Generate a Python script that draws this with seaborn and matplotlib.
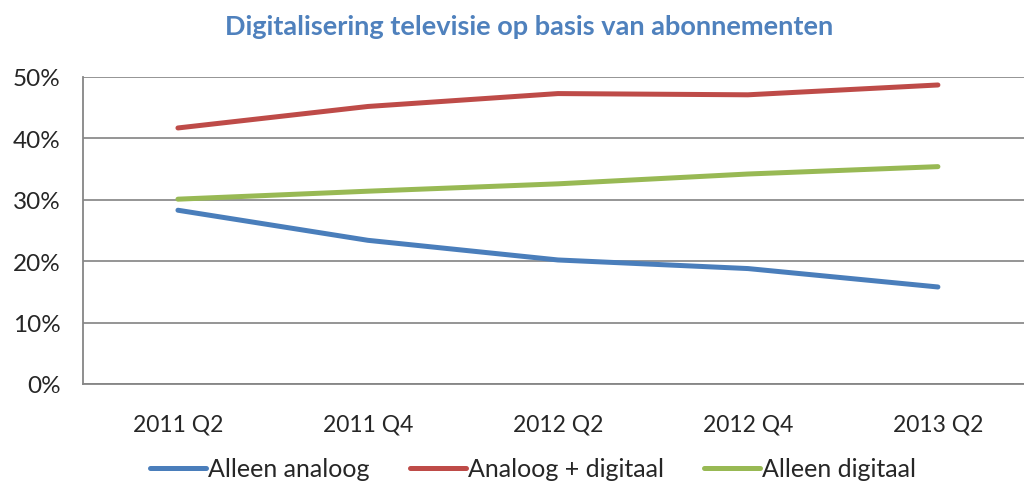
import matplotlib
matplotlib.use("Agg")
import matplotlib.pyplot as plt
import seaborn as sns
import pandas as pd
from matplotlib.ticker import PercentFormatter

quarters = ["2011 Q2", "2011 Q4", "2012 Q2", "2012 Q4", "2013 Q2"]
alleen_analoog = [28.3, 23.4, 20.2, 18.8, 15.8]
analoog_digitaal = [41.7, 45.2, 47.3, 47.1, 48.7]
alleen_digitaal = [30.1, 31.4, 32.6, 34.2, 35.4]

series = {
    "Alleen analoog": alleen_analoog,
    "Analoog + digitaal": analoog_digitaal,
    "Alleen digitaal": alleen_digitaal,
}
colors = ["#4A7EBB", "#BE4B48", "#98B954"]

rows = []
for name, vals in series.items():
    for i, (q, v) in enumerate(zip(quarters, vals)):
        rows.append({"pos": i, "kwartaal": q, "serie": name, "waarde": v})
df = pd.DataFrame(rows)

sns.set_style("white")
plt.rcParams["font.family"] = ["Lato", "DejaVu Sans"]

fig = plt.figure(figsize=(10.24, 4.89), dpi=100)
ax = fig.add_axes([0.081, 0.2127, 0.9277, 0.6278])

sns.lineplot(data=df, x="pos", y="waarde", hue="serie", palette=colors,
             linewidth=3.6, ax=ax, legend=True, solid_capstyle="round")

ax.set_xlim(-0.5, 4.5)
ax.set_ylim(0, 50)
ax.set_yticks(range(0, 51, 10))
ax.yaxis.set_major_formatter(PercentFormatter(decimals=0))
ax.set_xticks(range(len(quarters)))
ax.set_xticklabels(quarters)
ax.set_xticks([x + 0.5 for x in range(-1, len(quarters))], minor=True)
ax.tick_params(axis="x", which="major", length=0, pad=21, labelsize=16.5)
ax.tick_params(axis="x", which="minor", length=6, color="#868686", width=1.2)
ax.tick_params(axis="y", length=6, color="#868686", width=1.2, labelsize=17.5, pad=10)
ax.yaxis.grid(True, color="#8C8C8C", linewidth=1.3)
ax.set_axisbelow(True)
for s in ["top", "right"]:
    ax.spines[s].set_visible(False)
for s in ["left", "bottom"]:
    ax.spines[s].set_color("#868686")
    ax.spines[s].set_linewidth(1.3)
ax.set_xlabel("")
ax.set_ylabel("")

ax.legend(loc="center", bbox_to_anchor=(533 / 1024, 1 - 470 / 489), bbox_transform=fig.transFigure,
          ncol=3, frameon=False, fontsize=18, handlelength=2.25, handletextpad=0.08,
          columnspacing=1.6)

fig.text(529 / 1024, 1 - 27 / 489, "Digitalisering televisie op basis van abonnementen",
         ha="center", va="center", fontsize=19.5, fontweight="bold", color="#4F81BD")

fig.savefig("out.png", dpi=100)
